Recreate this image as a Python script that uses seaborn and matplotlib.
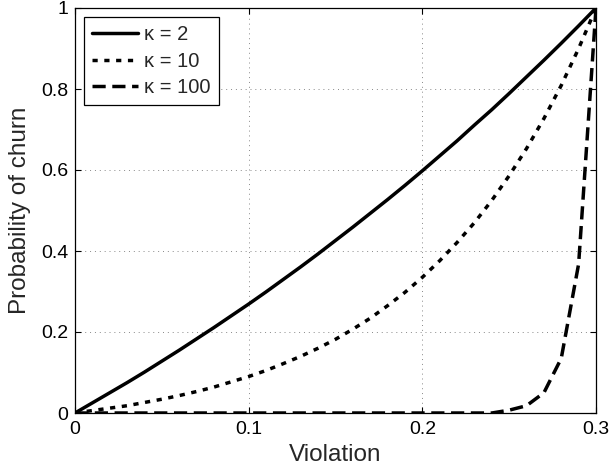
import numpy as np
import pandas as pd
import matplotlib
matplotlib.use("Agg")
import matplotlib.pyplot as plt
import seaborn as sns

violation = [0.00, 0.01, 0.02, 0.03, 0.04, 0.05, 0.06, 0.07, 0.08, 0.09, 0.10,
             0.11, 0.12, 0.13, 0.14, 0.15, 0.16, 0.17, 0.18, 0.19, 0.20,
             0.21, 0.22, 0.23, 0.24, 0.25, 0.26, 0.27, 0.28, 0.29, 0.30]

churn_k2 = [0.000, 0.025, 0.050, 0.075, 0.101, 0.128, 0.155, 0.183, 0.211, 0.240, 0.269,
            0.299, 0.330, 0.361, 0.393, 0.426, 0.459, 0.493, 0.527, 0.562, 0.598,
            0.635, 0.672, 0.711, 0.749, 0.789, 0.830, 0.871, 0.913, 0.956, 1.000]

churn_k10 = [0.000, 0.006, 0.012, 0.018, 0.026, 0.034, 0.043, 0.053, 0.064, 0.077, 0.090,
             0.105, 0.122, 0.140, 0.160, 0.182, 0.207, 0.234, 0.265, 0.298, 0.335,
             0.376, 0.421, 0.470, 0.525, 0.586, 0.653, 0.727, 0.809, 0.900, 1.000]

churn_k100 = [0.000, 0.000, 0.000, 0.000, 0.000, 0.000, 0.000, 0.000, 0.000, 0.000, 0.000,
              0.000, 0.000, 0.000, 0.000, 0.000, 0.000, 0.000, 0.000, 0.000, 0.000,
              0.000, 0.000, 0.000, 0.000, 0.007, 0.018, 0.050, 0.135, 0.368, 1.000]

labels = ["\u03ba = 2", "\u03ba = 10", "\u03ba = 100"]
x_ticks = [0, 0.1, 0.2, 0.3]
x_tick_labels = ["0", "0.1", "0.2", "0.3"]
y_ticks = [0, 0.2, 0.4, 0.6, 0.8, 1.0]
y_tick_labels = ["0", "0.2", "0.4", "0.6", "0.8", "1"]

sns.set_style("ticks")
plt.rcParams["font.family"] = ["Liberation Sans", "DejaVu Sans"]

fig = plt.figure(figsize=(6.11, 4.68), dpi=100)
ax = fig.add_axes([75/611, 55/468, 521/611, 405/468])

styles = [
    dict(linestyle="-"),
    dict(linestyle=(0, (1.5, 1.9)), dash_capstyle="butt"),
    dict(linestyle=(0, (3.8, 1.9)), dash_capstyle="butt"),
]
for ys, lab, st in zip([churn_k2, churn_k10, churn_k100], labels, styles):
    sns.lineplot(x=violation, y=ys, ax=ax, color="black", linewidth=2.5,
                 label=lab, **st)

ax.set_xlim(0, 0.3)
ax.set_ylim(0, 1)
ax.set_xticks(x_ticks)
ax.set_xticklabels(x_tick_labels)
ax.set_yticks(y_ticks)
ax.set_yticklabels(y_tick_labels)
ax.grid(True, linestyle=(0, (1, 4)), color="#888888", linewidth=0.7)
ax.tick_params(direction="in", top=True, right=True, length=4, width=0.8,
               labelsize=14, colors="black")
ax.tick_params(axis="x", pad=6)
ax.tick_params(axis="y", pad=5)
for sp in ax.spines.values():
    sp.set_visible(True)
    sp.set_color("black")
    sp.set_linewidth(0.9)
ax.set_xlabel("Violation", fontsize=17.5, labelpad=4)
ax.set_ylabel("Probability of churn", fontsize=17.5, labelpad=7)

leg = ax.legend(loc="upper left", fontsize=14.5, frameon=True, fancybox=False,
                edgecolor="black", framealpha=1, handlelength=2.3,
                borderpad=0.4, labelspacing=0.38, handletextpad=0.3,
                borderaxespad=0.45)
leg.get_frame().set_linewidth(0.9)

fig.savefig("out.png", dpi=100)
